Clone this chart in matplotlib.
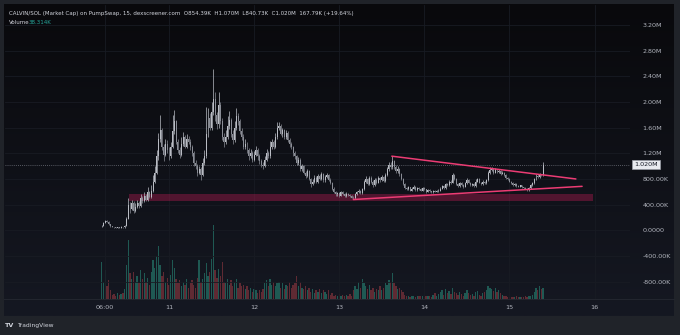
import numpy as np
import pandas as pd
import matplotlib
matplotlib.use('Agg')
import matplotlib.pyplot as plt
import matplotlib.dates as mdates
from matplotlib.patches import Rectangle

# 30 minute bars, market cap in thousands
start = '2024-10-10 05:00'
first_open = 60

closes = [70, 120, 150, 135, 100, 65, 50, 45, 40, 45,
          40, 50, 45, 70, 180, 400, 330, 430, 300, 360,
          420, 380, 500, 460, 540, 480, 590, 520, 620, 760,
          900, 1150, 1420, 1560, 1300, 1180, 1350, 1250, 1150, 1300,
          1550, 1700, 1380, 1250, 1180, 1350, 1450, 1300, 1420, 1380,
          1300, 1200, 1050, 1000, 900, 950, 860, 1050, 1150, 1500,
          1750, 1600, 1850, 2050, 1800, 1650, 1950, 1700, 1450, 1380,
          1450, 1620, 1720, 1500, 1400, 1600, 1780, 1700, 1550, 1450,
          1300, 1350, 1250, 1150, 1200, 1100, 1180, 1250, 1150, 1080,
          1020, 1000, 1100, 1200, 1150, 1300, 1380, 1300, 1450, 1600,
          1620, 1500, 1560, 1450, 1520, 1400, 1350, 1300, 1200, 1150,
          1050, 1100, 950, 1000, 900, 850, 920, 800, 720, 760,
          820, 760, 850, 800, 880, 780, 830, 860, 790, 740,
          650, 600, 560, 580, 540, 590, 560, 530, 570, 550,
          540, 510, 500, 560, 590, 620, 580, 640, 760, 800,
          720, 820, 760, 700, 790, 740, 810, 780, 830, 770,
          860, 950, 1020, 980, 1080, 990, 920, 960, 870, 800,
          720, 660, 640, 670, 620, 650, 680, 630, 660, 640,
          620, 660, 640, 600, 630, 610, 590, 620, 600, 610,
          620, 650, 690, 660, 720, 700, 760, 740, 860, 800,
          720, 690, 740, 700, 680, 730, 790, 740, 700, 720,
          690, 760, 800, 740, 720, 760, 730, 780, 900, 940,
          960, 900, 950, 910, 930, 880, 900, 860, 820, 800,
          760, 740, 700, 720, 690, 680, 700, 670, 660, 650,
          630, 660, 700, 730, 800, 850, 830, 870, 854.39, 1020]

highs = [90, 135, 165, 160, 140, 105, 70, 55, 50, 55,
         50, 60, 55, 80, 210, 500, 440, 480, 450, 420,
         470, 450, 560, 530, 600, 570, 680, 610, 700, 860,
         1000, 1250, 1520, 1800, 1600, 1350, 1420, 1400, 1300, 1380,
         1790, 1880, 1720, 1420, 1300, 1450, 1530, 1480, 1500, 1470,
         1420, 1330, 1230, 1100, 1040, 1000, 980, 1120, 1250, 1920,
         1900, 1820, 2000, 2510, 2150, 1850, 2160, 2000, 1750, 1520,
         1560, 1780, 1860, 1750, 1560, 1700, 1900, 1830, 1740, 1600,
         1500, 1420, 1380, 1290, 1260, 1230, 1240, 1320, 1280, 1190,
         1110, 1060, 1160, 1260, 1240, 1390, 1420, 1410, 1520, 1690,
         1680, 1650, 1600, 1580, 1560, 1540, 1440, 1380, 1320, 1240,
         1180, 1140, 1120, 1040, 1020, 930, 960, 940, 820, 800,
         860, 840, 880, 870, 910, 900, 860, 890, 880, 810,
         750, 670, 620, 600, 600, 610, 610, 575, 590, 585,
         570, 555, 530, 580, 610, 640, 635, 660, 790, 850,
         820, 850, 840, 780, 810, 810, 840, 830, 860, 850,
         890, 980, 1060, 1060, 1150, 1100, 1010, 1000, 970, 890,
         810, 730, 680, 690, 680, 670, 700, 690, 680, 670,
         655, 675, 670, 650, 645, 640, 620, 635, 630, 625,
         640, 670, 710, 700, 740, 740, 780, 780, 900, 880,
         810, 735, 760, 750, 715, 750, 810, 800, 750, 740,
         730, 800, 820, 810, 750, 780, 770, 800, 930, 980,
         990, 975, 970, 960, 955, 940, 920, 910, 870, 830,
         810, 775, 750, 735, 730, 700, 710, 705, 680, 670,
         660, 670, 715, 750, 820, 870, 880, 890, 880, 1070]

lows = [50, 60, 110, 125, 90, 55, 45, 35, 30, 35,
        30, 35, 35, 40, 65, 170, 270, 310, 270, 290,
        340, 340, 360, 430, 440, 450, 460, 500, 500, 600,
        740, 880, 1100, 1380, 1250, 1080, 1150, 1200, 1100, 1120,
        1280, 1500, 1340, 1200, 1120, 1150, 1320, 1280, 1280, 1340,
        1250, 1150, 1000, 950, 850, 880, 790, 840, 1020, 1130,
        1450, 1560, 1560, 1800, 1700, 1580, 1600, 1650, 1400, 1300,
        1340, 1420, 1580, 1460, 1350, 1380, 1560, 1640, 1500, 1400,
        1260, 1260, 1200, 1100, 1120, 1060, 1080, 1160, 1100, 1040,
        990, 960, 980, 1080, 1120, 1120, 1260, 1260, 1280, 1420,
        1560, 1480, 1460, 1420, 1420, 1380, 1300, 1260, 1160, 1110,
        1020, 1020, 930, 920, 870, 820, 830, 780, 680, 700,
        740, 740, 740, 780, 780, 760, 760, 810, 770, 720,
        630, 580, 540, 540, 525, 530, 545, 515, 520, 535,
        520, 500, 490, 495, 545, 575, 565, 570, 625, 740,
        700, 700, 740, 680, 690, 720, 730, 760, 770, 750,
        760, 840, 920, 950, 960, 960, 900, 900, 850, 780,
        700, 650, 625, 630, 605, 610, 640, 620, 620, 625,
        605, 610, 625, 585, 590, 600, 575, 580, 590, 590,
        600, 610, 640, 650, 650, 690, 690, 720, 730, 780,
        700, 675, 680, 690, 665, 670, 720, 730, 690, 690,
        675, 680, 745, 730, 705, 710, 715, 720, 770, 880,
        920, 880, 890, 895, 900, 860, 870, 840, 805, 785,
        745, 725, 690, 690, 680, 670, 670, 660, 650, 640,
        615, 620, 650, 690, 720, 790, 815, 820, 840.73, 840.73]

volumes = [130, 60, 100, 45, 65, 30, 15, 18, 12, 20,
           14, 16, 22, 35, 120, 205, 90, 70, 95, 60,
           80, 55, 100, 70, 90, 60, 75, 50, 95, 135,
           110, 150, 185, 120, 80, 95, 60, 75, 50, 85,
           135, 110, 70, 55, 65, 45, 60, 50, 70, 40,
           55, 65, 50, 40, 75, 135, 60, 70, 90, 125,
           80, 95, 140, 260, 100, 75, 105, 80, 130, 60,
           55, 70, 50, 65, 45, 60, 70, 40, 55, 45,
           50, 35, 45, 30, 40, 25, 35, 30, 20, 30,
           25, 35, 55, 65, 45, 70, 50, 60, 45, 55,
           60, 40, 55, 35, 50, 45, 60, 40, 50, 55,
           80, 45, 60, 40, 35, 45, 30, 40, 25, 35,
           20, 30, 25, 35, 20, 30, 25, 18, 30, 15,
           20, 12, 15, 10, 18, 12, 15, 10, 14, 12,
           16, 12, 30, 45, 35, 60, 40, 70, 55, 45,
           35, 50, 30, 40, 25, 35, 30, 45, 30, 40,
           55, 50, 65, 60, 90, 55, 45, 35, 40, 30,
           25, 15, 10, 12, 8, 10, 12, 8, 10, 9,
           12, 10, 8, 11, 9, 10, 8, 15, 20, 12,
           18, 25, 30, 15, 35, 20, 28, 18, 40, 25,
           20, 15, 25, 18, 12, 20, 30, 22, 15, 18,
           12, 25, 28, 15, 12, 20, 25, 30, 45, 38,
           35, 28, 40, 25, 30, 22, 15, 12, 10, 8,
           7, 8, 6, 7, 9, 6, 7, 8, 6, 9,
           8, 10, 12, 15, 25, 40, 30, 45, 35, 38.314]

# support zone and triangle lines
zone_start, zone_end = '2024-10-10 12:40', '2024-10-15 23:35'
zone_low, zone_high = 456, 565
upper_line_t = ['2024-10-13 14:50', '2024-10-15 18:45']
upper_line_v = [1155, 800]
lower_line_t = ['2024-10-13 04:00', '2024-10-15 20:30']
lower_line_v = [480, 685]

last_price = 1020
price_ticks = [-800, -400, 0, 400, 800, 1200, 1600, 2000, 2400, 2800, 3200]
price_labels = ['-800.00K', '-400.00K', '0.0000', '400.00K', '800.00K',
                '1.20M', '1.60M', '2.00M', '2.40M', '2.80M', '3.20M']
time_ticks = ['2024-10-10 06:00', '2024-10-11 00:00', '2024-10-12 00:00',
              '2024-10-13 00:00', '2024-10-14 00:00', '2024-10-15 00:00',
              '2024-10-16 00:00']
time_labels = ['06:00', '11', '12', '13', '14', '15', '16']

W, H = 680, 335
fig = plt.figure(figsize=(W / 100, H / 100), dpi=100, facecolor='#202329')

def rect(l, t, r, b):
    return [l / W, 1 - b / H, (r - l) / W, (b - t) / H]

def days(stamps):
    return mdates.date2num(pd.to_datetime(stamps, format='%Y-%m-%d %H:%M'))

# dark panel with a slight vertical gradient
bg = fig.add_axes(rect(4, 4, 674, 316))
grad = np.linspace(0, 1, 256).reshape(-1, 1)
top = np.array([0x09, 0x09, 0x0c]) / 255
bot = np.array([0x15, 0x18, 0x22]) / 255
img = top + (bot - top) * grad[:, :, None]
bg.imshow(img, aspect='auto', extent=[0, 1, 0, 1])
bg.set_axis_off()

ax = fig.add_axes(rect(5, 5, 630, 299))
vax = ax.twinx()
ax.set_zorder(vax.get_zorder() + 1)
ax.patch.set_visible(False)
vax.patch.set_visible(False)

t = mdates.date2num(pd.date_range(start, periods=len(closes), freq='30min'))
c = np.array(closes, dtype=float)
o = np.concatenate([[first_open], c[:-1]])
hi = np.maximum(np.array(highs, dtype=float), np.maximum(o, c))
lo = np.minimum(np.array(lows, dtype=float), np.minimum(o, c))
up = c >= o
bw = 1 / 48

# volume
vcol = np.where(up, '#1f5953', '#5f2a33')
vax.bar(t, volumes, width=bw * 0.75, color=vcol, linewidth=0)
vax.set_ylim(0, 294 * 3.5)
vax.set_yticks([])
for s in vax.spines.values():
    s.set_visible(False)

# candles
ccol = np.where(up, '#b9bcc4', '#8a8d96')
ax.vlines(t, lo, hi, colors=ccol, linewidth=0.5, zorder=3)
body = np.maximum(np.abs(c - o), 6)
ax.bar(t, body, bottom=np.minimum(o, c), width=bw * 0.55, color=ccol,
       linewidth=0, zorder=3)

# zone and trendlines
z0, z1 = days([zone_start, zone_end])
ax.add_patch(Rectangle((z0, zone_low), z1 - z0, zone_high - zone_low,
                       facecolor='#e91e63', alpha=0.3, linewidth=0, zorder=2))
ax.plot(days(upper_line_t), upper_line_v,
        color='#ec3c74', lw=1.1, zorder=4, solid_capstyle='round')
ax.plot(days(lower_line_t), lower_line_v,
        color='#ec3c74', lw=1.1, zorder=4, solid_capstyle='round')

# last price line and tag
ax.axhline(last_price, color='#6f727b', lw=0.6, ls=(0, (1, 1.5)), zorder=1)
ax.text(1.007, last_price, '1.020M', transform=ax.get_yaxis_transform(),
        ha='left', va='center', fontsize=4.6, color='#131722', zorder=6,
        clip_on=False,
        bbox=dict(boxstyle='square,pad=0.3', facecolor='#e8eaef',
                  edgecolor='#9a9da6', linewidth=0.5))

day11 = days(['2024-10-11 00:00'])[0]
ax.set_xlim(day11 - 164 / 85.1, day11 + 461 / 85.1)
ax.set_ylim(-1070, 3510)

ax.yaxis.tick_right()
ax.set_yticks(price_ticks)
ax.set_yticklabels(price_labels)
ax.set_xticks(days(time_ticks))
ax.set_xticklabels(time_labels)
ax.tick_params(axis='y', length=0, pad=9, labelsize=4.6, labelcolor='#b2b5be')
ax.tick_params(axis='x', length=0, pad=4.5, labelsize=4.6, labelcolor='#b2b5be')
ax.grid(True, color='#181b23', lw=0.6)
ax.set_axisbelow(True)
for s in ax.spines.values():
    s.set_visible(False)

# separator above the time scale
fig.add_artist(plt.Line2D([4 / W, 674 / W], [1 - 299 / H] * 2,
                          color='#23262f', lw=0.7))

fig.text(9 / W, 1 - 13 / H,
         'CALVIN/SOL (Market Cap) on PumpSwap, 15, dexscreener.com  '
         'O854.39K  H1.070M  L840.73K  C1.020M  167.79K (+19.64%)',
         fontsize=4.0, color='#d1d4dc', va='center')
fig.text(9 / W, 1 - 23 / H, 'Volume', fontsize=4.0, color='#d1d4dc',
         va='center')
fig.text(29 / W, 1 - 23 / H, '38.314K', fontsize=4.0, color='#26a69a',
         va='center')

fig.text(5 / W, 1 - 325.5 / H, 'TV', fontsize=4.6, color='#d1d4dc',
         va='center', fontweight='bold')
fig.text(17 / W, 1 - 325.5 / H, 'TradingView', fontsize=4.3,
         color='#d1d4dc', va='center')

fig.savefig('out.png', dpi=100, facecolor=fig.get_facecolor())
